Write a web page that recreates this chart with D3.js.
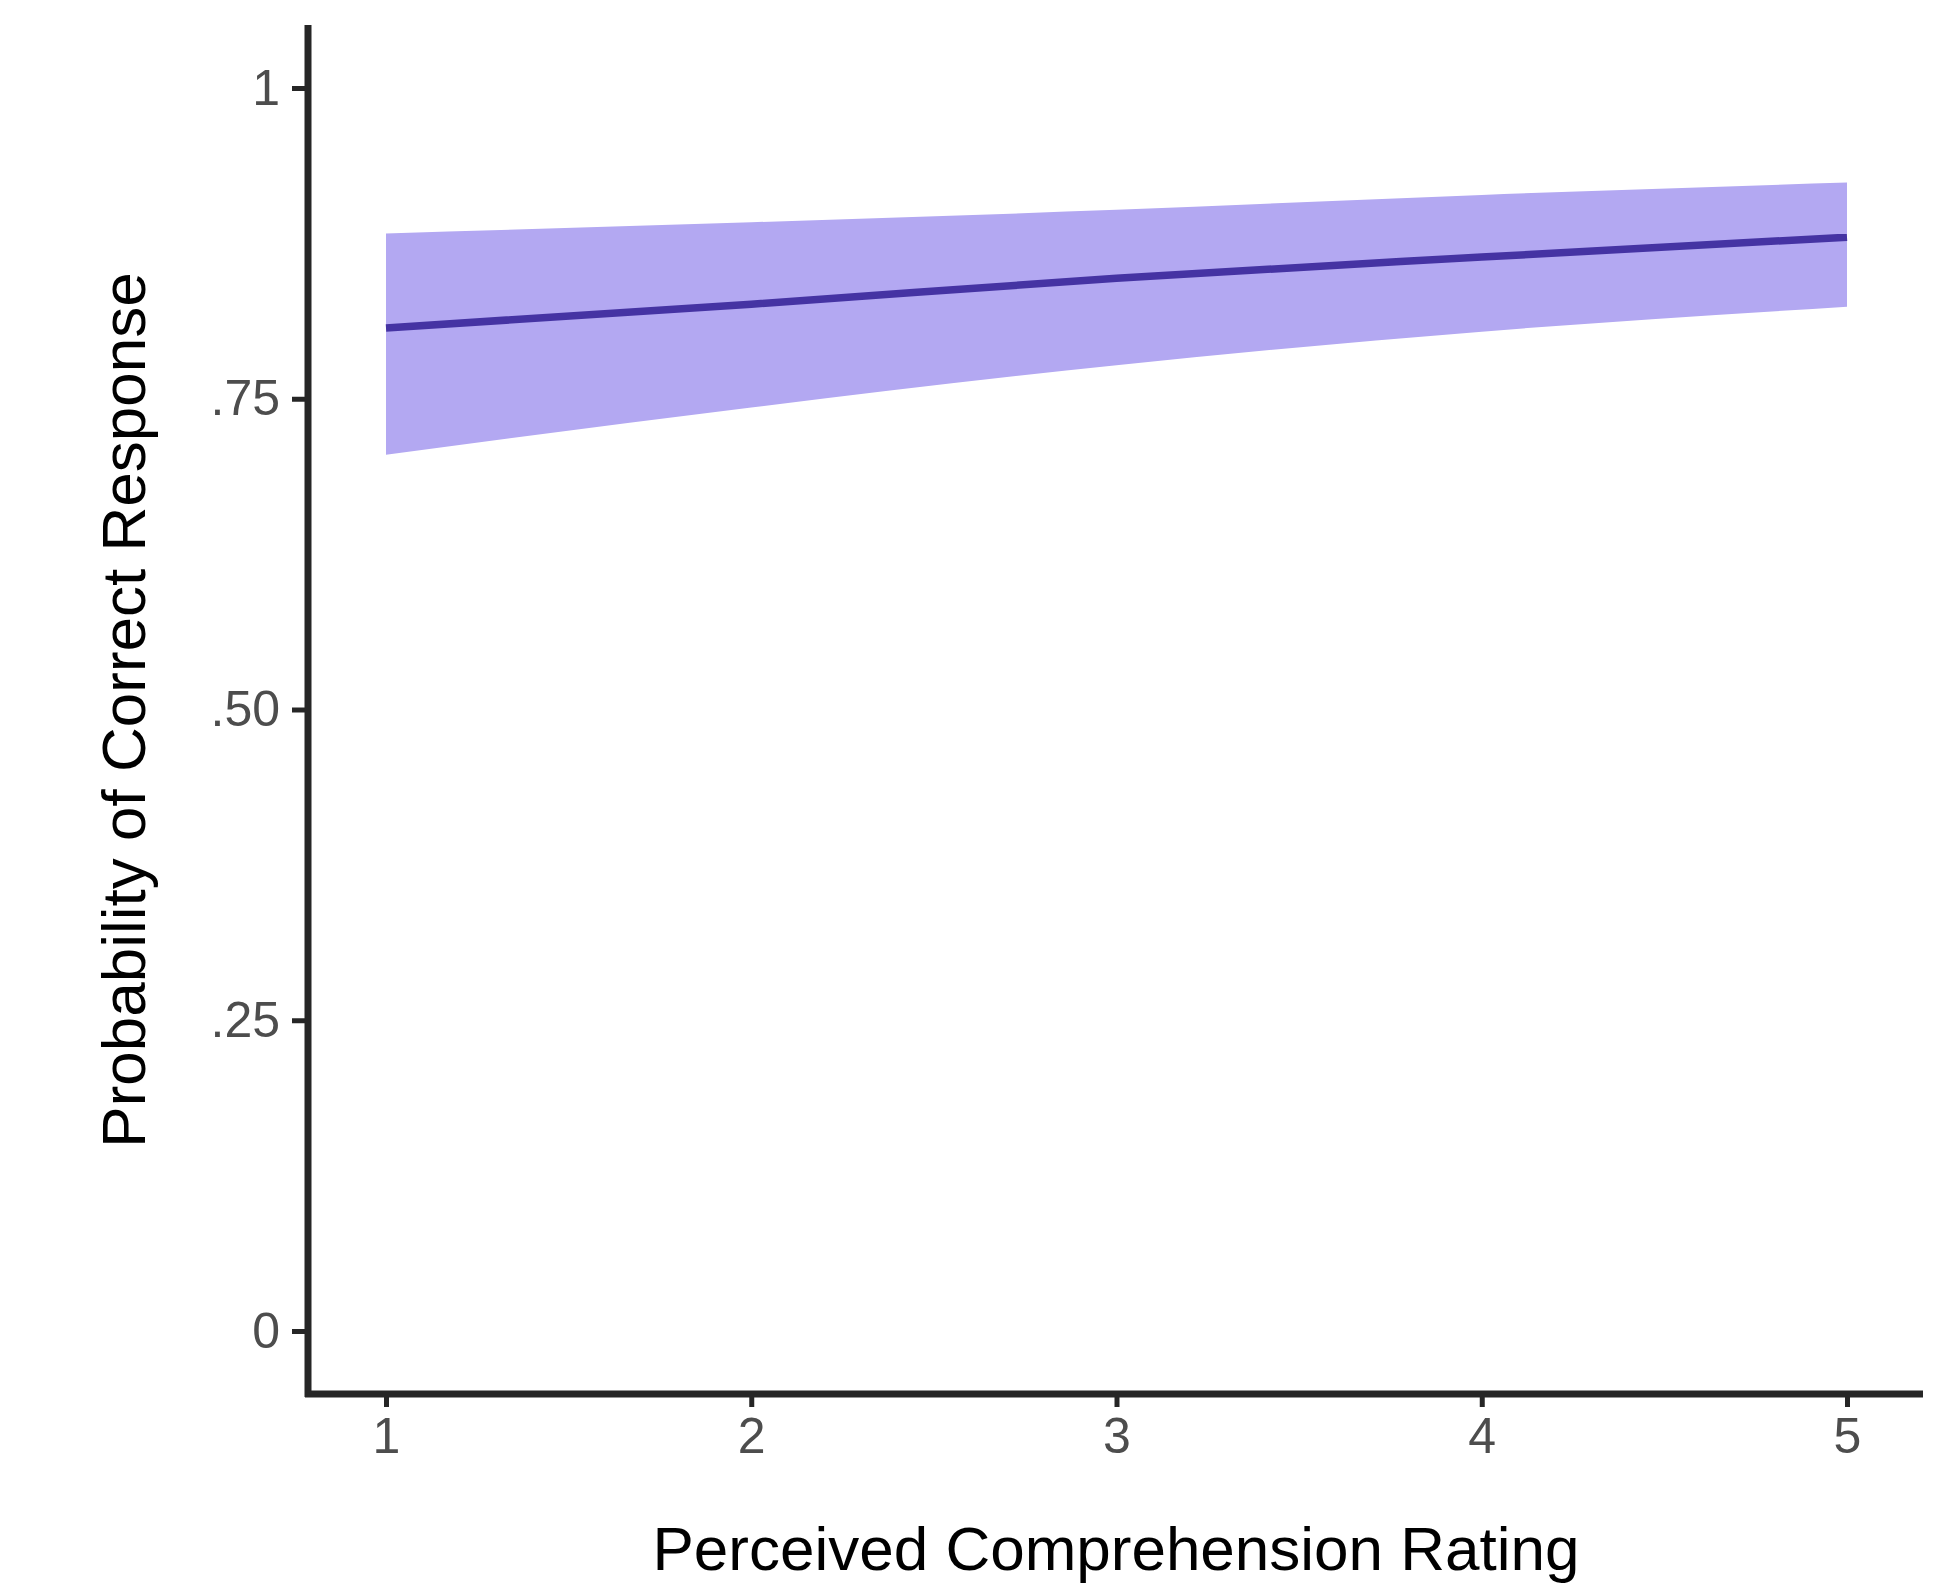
<!DOCTYPE html>
<meta charset="utf-8">
<style>
  body { margin: 0; background: #fff; }
  .axis path, .axis line { stroke: #262626; }
  .axis text { fill: #4d4d4d; font-family: "Liberation Sans", Arial, sans-serif; font-size: 50px; }
  .title { font-family: "Liberation Sans", Arial, sans-serif; font-size: 62px; fill: #000; }
</style>
<body>
<script src="https://d3js.org/d3.v7.min.js"></script>
<div id="chart"></div>
<script>

// ratings on the x axis
var ratings = [1, 2, 3, 4, 5];
// predicted probability and its confidence band
var fit   = [0.807, 0.826, 0.847, 0.864, 0.880];
var upper = [0.883, 0.892, 0.902, 0.914, 0.924];
var lower = [0.705, 0.743, 0.777, 0.804, 0.824];

var yTicks = [0, 0.25, 0.5, 0.75, 1];
var yTickLabels = ["0", ".25", ".50", ".75", "1"];

var W = 1951, H = 1590;

var x = d3.scaleLinear().domain([1, 5]).range([386, 1847]);
var y = d3.scaleLinear().domain([0, 1]).range([1331, 88]);

var axisX = 308, axisY = 1394;

var svg = d3.select("#chart").append("svg")
    .attr("width", W)
    .attr("height", H);

var data = ratings.map(function(r, i) {
  return {x: r, fit: fit[i], lo: lower[i], hi: upper[i]};
});

// confidence band
svg.append("path")
    .datum(data)
    .attr("fill", "#b3a8f2")
    .attr("d", d3.area()
      .curve(d3.curveMonotoneX)
      .x(function(d) { return x(d.x); })
      .y0(function(d) { return y(d.lo); })
      .y1(function(d) { return y(d.hi); }));

// fitted line
svg.append("path")
    .datum(data)
    .attr("fill", "none")
    .attr("stroke", "#4533a3")
    .attr("stroke-width", 7.5)
    .attr("d", d3.line()
      .curve(d3.curveMonotoneX)
      .x(function(d) { return x(d.x); })
      .y(function(d) { return y(d.fit); }));

// x axis
var gx = svg.append("g")
    .attr("class", "axis")
    .attr("transform", "translate(0," + axisY + ")")
    .call(d3.axisBottom(x).tickValues(ratings).tickSize(13).tickPadding(10).tickFormat(d3.format("d")));
gx.select(".domain").remove();
gx.selectAll("line").attr("stroke-width", 5);
gx.append("line")
    .attr("x1", axisX - 3).attr("x2", 1923)
    .attr("stroke", "#262626").attr("stroke-width", 7);

// y axis
var gy = svg.append("g")
    .attr("class", "axis")
    .attr("transform", "translate(" + axisX + ",0)")
    .call(d3.axisLeft(y).tickValues(yTicks).tickSize(16).tickPadding(12)
      .tickFormat(function(d, i) { return yTickLabels[i]; }));
gy.select(".domain").remove();
gy.selectAll("line").attr("stroke-width", 5);
gy.append("line")
    .attr("y1", 25).attr("y2", axisY + 3)
    .attr("stroke", "#262626").attr("stroke-width", 7);

// axis titles
svg.append("text")
    .attr("class", "title")
    .attr("text-anchor", "middle")
    .attr("x", 1116)
    .attr("y", 1570)
    .text("Perceived Comprehension Rating");

svg.append("text")
    .attr("class", "title")
    .attr("text-anchor", "middle")
    .attr("transform", "translate(145,710) rotate(-90)")
    .text("Probability of Correct Response");

</script>
</body>
